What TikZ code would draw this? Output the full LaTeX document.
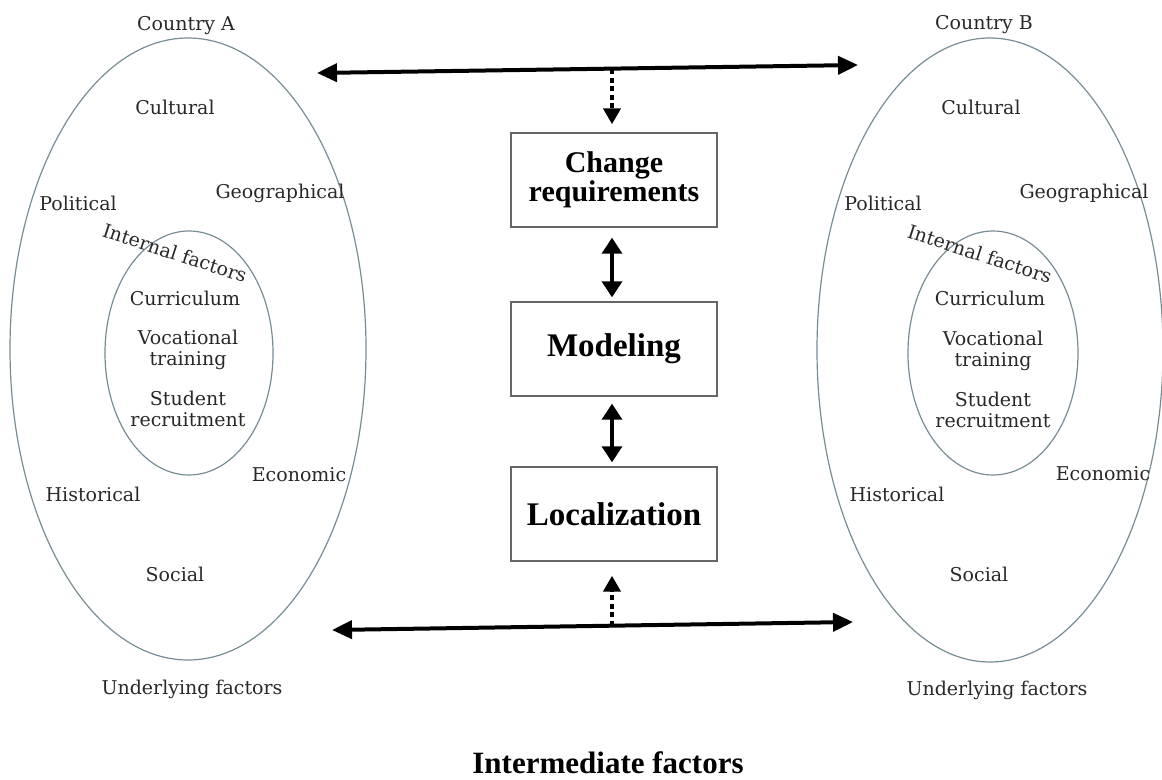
\documentclass[tikz,border=0pt]{standalone}
\usepackage{fontspec}
\setmainfont{DejaVu Serif}
\newfontfamily\boxfont{Liberation Serif}
\usetikzlibrary{arrows.meta}
\definecolor{ellcol}{RGB}{120,140,150}
\definecolor{txtcol}{RGB}{40,40,40}

\begin{document}
\begin{tikzpicture}[x=0.5pt,y=-0.5pt,
	lbl/.style={text=txtcol, font=\fontsize{9.5}{10.5}\selectfont, align=center, inner sep=0pt},
	ell/.style={draw=ellcol, line width=0.6pt},
	stage/.style={draw=black!60, line width=0.7pt, minimum width=103pt, minimum height=47pt, align=center, font=\boxfont\bfseries\fontsize{16.5}{14}\selectfont},
	link/.style={line width=2pt, {Triangle[length=10pt,width=9pt]}-{Triangle[length=10pt,width=9pt]}},
	dbl/.style={line width=1.8pt, {Triangle[length=8pt,width=10pt]}-{Triangle[length=8pt,width=10pt]}},
	dotlink/.style={line width=2pt, dash pattern=on 2.5pt off 1.8pt, -{Triangle[length=8pt,width=8.5pt]}}]
	\useasboundingbox (0,0) rectangle (1162,780);
	\draw[ell] (188,349) ellipse (178 and 311);
	\draw[ell] (189,353) ellipse (84 and 122);
	\draw[ell] (990,350) ellipse (173 and 312);
	\draw[ell] (993,353) ellipse (85 and 122);
	\draw (186,26) node[lbl](cntA) {Country A};
	\draw (175,107) node[lbl](cultA) {Cultural};
	\draw (78,203) node[lbl](polA) {Political};
	\draw (280,193) node[lbl](geoA) {Geographical};
	\draw (175,253) node[lbl, rotate=-18](intA) {Internal factors};
	\draw (185,298) node[lbl](currA) {Curriculum};
	\draw (188,350) node[lbl](vocA) {Vocational\\training};
	\draw (188,409) node[lbl](studA) {Student\\recruitment};
	\draw (299,475) node[lbl](ecoA) {Economic};
	\draw (93,494) node[lbl](histA) {Historical};
	\draw (175,574) node[lbl](socA) {Social};
	\draw (192,689) node[lbl](undA) {Underlying factors};
	\draw (984,25) node[lbl](cntB) {Country B};
	\draw (981,107) node[lbl](cultB) {Cultural};
	\draw (883,203) node[lbl](polB) {Political};
	\draw (1084,193) node[lbl](geoB) {Geographical};
	\draw (980,254) node[lbl, rotate=-18](intB) {Internal factors};
	\draw (990,298) node[lbl](currB) {Curriculum};
	\draw (993,351) node[lbl](vocB) {Vocational\\training};
	\draw (993,410) node[lbl](studB) {Student\\recruitment};
	\draw (1103,474) node[lbl](ecoB) {Economic};
	\draw (897,494) node[lbl](histB) {Historical};
	\draw (979,574) node[lbl](socB) {Social};
	\draw (997,690) node[lbl](undB) {Underlying factors};
	\draw (614,180) node[stage, font=\boxfont\bfseries\fontsize{15}{13.5}\selectfont](change) {Change\\requirements};
	\draw (614,349) node[stage](model) {Modeling};
	\draw (614,514) node[stage](local) {Localization};
	\draw (608,763) node[inner sep=0pt, font=\boxfont\bfseries\fontsize{15.5}{15.5}\selectfont](inter) {Intermediate factors};
	\coordinate (tL) at (317,73);
	\coordinate (tR) at (858,65);
	\coordinate (tM) at (612,69);
	\coordinate (bL) at (332,630);
	\coordinate (bR) at (853,622);
	\coordinate (bM) at (612,626);
	\draw[link] (tL) -- (tR);
	\draw[link] (bL) -- (bR);
	\draw[dotlink] (tM) -- ([xshift=-1pt, yshift=4pt]change.north);
	\draw[dotlink] (bM) -- ([xshift=-1pt, yshift=-7pt]local.south);
	\draw[dbl] ([xshift=-1pt, yshift=-5pt]change.south) -- ([xshift=-1pt, yshift=2pt]model.north);
	\draw[dbl] ([xshift=-1pt, yshift=-3.5pt]model.south) -- ([xshift=-1pt, yshift=2pt]local.north);
\end{tikzpicture}
\end{document}
